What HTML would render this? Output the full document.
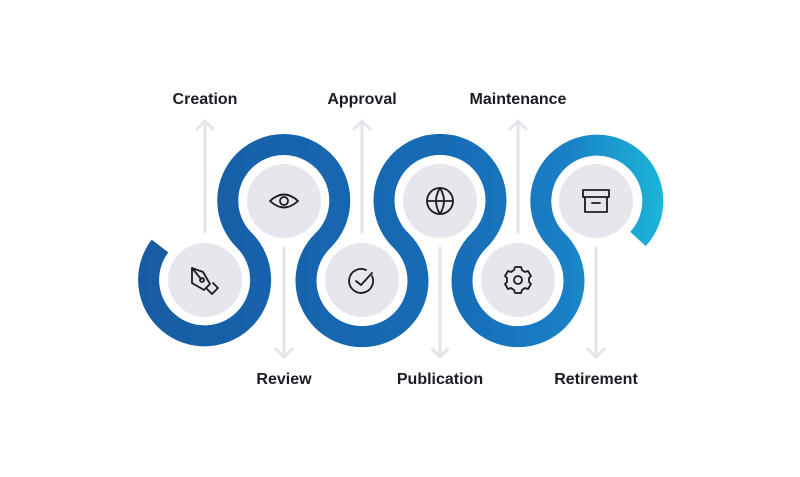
<!DOCTYPE html>
<html><head><style>
html,body{margin:0;padding:0;background:#fff;}
svg{display:block}
text{font-family:"Liberation Sans",sans-serif;font-weight:bold;font-size:16px;fill:#1b1b24;text-anchor:middle}
</style></head><body>
<svg width="800" height="477" viewBox="0 0 800 477" xmlns="http://www.w3.org/2000/svg">
<defs>
<linearGradient id="g" x1="140" y1="0" x2="660" y2="0" gradientUnits="userSpaceOnUse">
<stop offset="0" stop-color="#175ca3"/>
<stop offset="0.6" stop-color="#176cb6"/>
<stop offset="0.82" stop-color="#1a80c6"/>
<stop offset="1" stop-color="#1cb4d8"/>
</linearGradient>
</defs>
<g stroke="#e4e4ea" stroke-width="3" fill="none" stroke-linecap="round" stroke-linejoin="round">
<path d="M205 232V121 M197 129L205 121L213 129"/>
<path d="M362 232V121 M354 129L362 121L370 129"/>
<path d="M518 232V121 M510 129L518 121L526 129"/>
<path d="M284 248V357 M276 349L284 357L292 349"/>
<path d="M440 248V357 M432 349L440 357L448 349"/>
<path d="M596 248V357 M588 349L596 357L604 349"/>
</g>
<path fill="none" stroke="url(#g)" stroke-width="21" d="M160 246 A56 56 0 1 0 244.5 240.5 A56 56 0 1 1 323 240.5 A56 56 0 1 0 401 240.5 A56 56 0 1 1 479 240.5 A56 56 0 1 0 557 240.5 A56 56 0 1 1 638 239"/>
<g fill="#e7e6ec">
<circle cx="205" cy="280" r="37"/><circle cx="362" cy="280" r="37"/><circle cx="518" cy="280" r="37"/>
<circle cx="284" cy="201" r="37"/><circle cx="440" cy="201" r="37"/><circle cx="596" cy="201" r="37"/>
</g>
<g fill="none" stroke="#1b1b24" stroke-width="1.8" stroke-linecap="round" stroke-linejoin="round">
<path d="M192 268 L203 272 L210 284 L204 290 L192 283 Z M192 268 L201 279"/><circle cx="202" cy="280" r="2"/><path d="M207 289 L212 294 L218 288 L213 283"/>
<path d="M270 201 Q284 188 298 201 Q284 214 270 201 Z"/><circle cx="284" cy="201" r="4"/>
<path d="M372 276 A12 12 0 1 1 366 270"/><path d="M356 281 L361 285 L372 273"/>
<circle cx="440" cy="201" r="13"/><path d="M427 201H453 M440 188 Q432 201 440 214 Q448 201 440 188"/>
<circle cx="518" cy="280" r="4"/>
<path d="M515 267h6l1 3 3 2 3-1 3 5-2 2v4l2 2-3 5-3-1-3 2-1 3h-6l-1-3-3-2-3 1-3-5 2-2v-4l-2-2 3-5 3 1 3-2z"/>
<path d="M583 190h26v7h-26z M585 197v15h22v-15 M592 203h8"/>
</g>
<text x="205" y="104">Creation</text>
<text x="362" y="104">Approval</text>
<text x="518" y="104">Maintenance</text>
<text x="284" y="384">Review</text>
<text x="440" y="384">Publication</text>
<text x="596" y="384">Retirement</text>
</svg>
</body></html>
